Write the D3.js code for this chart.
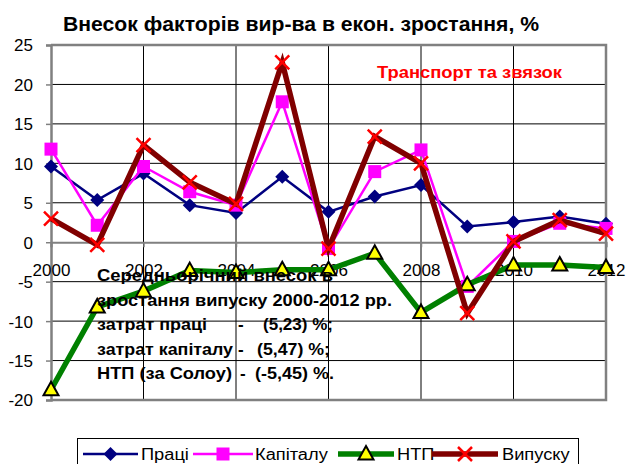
<!DOCTYPE html>
<html><head><meta charset="utf-8">
<script src="https://cdn.jsdelivr.net/npm/d3@7"></script>
<style>body{margin:0;background:#fff}svg{display:block;font-family:"Liberation Sans",Arial,sans-serif}</style>
</head><body>
<svg id="c" width="628" height="464"></svg>
<script>
const years = [2000,2001,2002,2003,2004,2005,2006,2007,2008,2009,2010,2011,2012];
const xTicks = [2000,2002,2004,2006,2008,2010,2012];
const yTicks = [-20,-15,-10,-5,0,5,10,15,20,25];
const pratsi   = [9.6,5.35,8.7,4.7,3.7,8.3,3.85,5.8,7.25,2.0,2.55,3.25,2.35];
const kapitalu = [11.8,2.15,9.6,6.4,4.7,17.8,-0.8,8.95,11.7,-5.6,0.1,2.4,1.75];
const ntp      = [-18.7,-8.2,-6.2,-3.6,-3.85,-3.5,-3.5,-1.4,-8.9,-5.4,-2.9,-2.9,-3.2];
const vypusku  = [3.0,-0.35,12.3,7.6,4.85,22.8,-0.8,13.4,10.0,-9.0,0.1,2.8,1.1];
const seriesNames = ["Праці","Капіталу","НТП","Випуску"];
const title = "Внесок факторів вир-ва в екон. зростання, %";
const note = "Транспорт та звязок";
const boxLines = [
  ["Середньорічний внесок в","",""],
  ["зростання випуску 2000-2012 рр.","",""],
  ["затрат праці","-","(5,23) %;"],
  ["затрат капіталу","-","(5,47) %;"],
  ["НТП (за Солоу)","-","(-5,45) %."]
];

const svg = d3.select("#c");
const L=51,R=606,T=45,B=400;
const x = d3.scaleLinear().domain([2000,2012]).range([L,R]);
const y = d3.scaleLinear().domain([-20,25]).range([B,T]);

svg.append("text").attr("x",63).attr("y",31)
  .attr("font-size",20).attr("font-weight","bold").attr("textLength",476).attr("lengthAdjust","spacingAndGlyphs").text(title);

// grid
const g = svg.append("g");
g.selectAll(".hg").data(yTicks.filter(v=>v!==0 && v!==25 && v!==-20)).enter().append("line")
  .attr("x1",L).attr("x2",R).attr("y1",d=>y(d)).attr("y2",d=>y(d)).attr("stroke","#000").attr("stroke-width",1);
g.selectAll(".vg").data(xTicks.filter(v=>v!==2000 && v!==2012)).enter().append("line")
  .attr("x1",d=>x(d)).attr("x2",d=>x(d)).attr("y1",T).attr("y2",B).attr("stroke","#000").attr("stroke-width",1);
// border
g.append("path").attr("d",`M${L},${T}H${R}V${B}H${L}`).attr("fill","none").attr("stroke","#808080").attr("stroke-width",2.5);
// y axis
const yAx = d3.axisLeft(y).tickValues(yTicks).tickSize(5).tickPadding(13).tickFormat(d3.format("d"));
const ya = svg.append("g").attr("transform",`translate(${L},0)`).call(yAx);
ya.select(".domain").attr("stroke","#808080").attr("stroke-width",2.5);
ya.selectAll(".tick line").attr("stroke","#808080").attr("stroke-width",1.5);
ya.selectAll("text").attr("font-size",17).attr("font-family","Liberation Sans, Arial").attr("fill","#000").attr("dy","0.35em");
ya.selectAll("text").text(d=>d<0?"-"+Math.abs(d):d);
// x axis at 0
const xAx = d3.axisBottom(x).tickValues(xTicks).tickSize(5).tickPadding(18).tickFormat(d3.format("d"));
const xa = svg.append("g").attr("transform",`translate(0,${y(0)})`).call(xAx);
xa.select(".domain").attr("stroke","#808080").attr("stroke-width",2);
xa.selectAll(".tick line").attr("stroke","#808080").attr("stroke-width",1.5);
xa.selectAll("text").attr("font-size",17).attr("font-family","Liberation Sans, Arial").attr("fill","#000").attr("dy","0").attr("y",34);

const series = [
  {name:seriesNames[0],vals:pratsi,color:"#000080",w:2.5,m:"diamond"},
  {name:seriesNames[1],vals:kapitalu,color:"#FF00FF",w:2.5,m:"square"},
  {name:seriesNames[2],vals:ntp,color:"#008000",w:5.5,m:"triangle"},
  {name:seriesNames[3],vals:vypusku,color:"#800000",w:5.5,m:"x"}
];
function marker(sel,type){
  if(type==="diamond") sel.append("path").attr("d","M0,-7L7,0L0,7L-7,0Z").attr("fill","#000080");
  if(type==="square") sel.append("rect").attr("x",-6.5).attr("y",-6.5).attr("width",13).attr("height",13).attr("fill","#FF00FF");
  if(type==="triangle") sel.append("path").attr("d","M0,-8L7.5,5.5L-7.5,5.5Z").attr("fill","#FFFF00").attr("stroke","#000").attr("stroke-width",2).attr("stroke-linejoin","miter");
  if(type==="x") sel.append("path").attr("d","M-7,-7L7,7M7,-7L-7,7").attr("stroke","#FF0000").attr("stroke-width",2.5);
}
const line = d3.line().x((d,i)=>x(years[i])).y(d=>y(d));
series.forEach(s=>{
  svg.append("path").attr("d",line(s.vals)).attr("fill","none").attr("stroke",s.color).attr("stroke-width",s.w).attr("stroke-linejoin","miter");
  s.vals.forEach((v,i)=>{
    const m = svg.append("g").attr("transform",`translate(${x(years[i])},${y(v)})`);
    marker(m,s.m);
  });
});

svg.append("text").attr("x",377).attr("y",78).attr("font-size",17).attr("font-weight","bold").attr("fill","#FF0000")
  .attr("textLength",185).attr("lengthAdjust","spacingAndGlyphs").text(note);

const tb = svg.append("g").attr("font-size",17).attr("font-weight","bold").attr("fill","#000");
const labW=[236,295,110,136,135];
const dashX=[0,0,238,238,240], valX=[0,0,263,257,255], valW=[0,0,70,73,79];
boxLines.forEach((l,i)=>{
  const by = 281 + i*24.5;
  tb.append("text").attr("x",97).attr("y",by).attr("textLength",labW[i]).attr("lengthAdjust","spacingAndGlyphs").text(l[0]);
  if(l[1]) tb.append("text").attr("x",dashX[i]).attr("y",by).text(l[1]);
  if(l[2]) tb.append("text").attr("x",valX[i]).attr("y",by).attr("textLength",valW[i]).attr("lengthAdjust","spacingAndGlyphs").text(l[2]);
});

// legend
const lg = svg.append("g");
lg.append("rect").attr("x",77.5).attr("y",438.5).attr("width",501).attr("height",30).attr("fill","#fff").attr("stroke","#000").attr("stroke-width",1);
const lx = [[83,138,141],[193,253,255],[338,394,397],[432,498,502]];
series.forEach((s,i)=>{
  const ly=454;
  lg.append("line").attr("x1",lx[i][0]).attr("x2",lx[i][1]).attr("y1",ly).attr("y2",ly).attr("stroke",s.color).attr("stroke-width",s.w);
  marker(lg.append("g").attr("transform",`translate(${(lx[i][0]+lx[i][1])/2},${ly})`),s.m);
  const t = lg.append("text").attr("x",lx[i][2]).attr("y",460).attr("font-size",16).text(s.name);
  const w = t.node().getComputedTextLength();
  t.attr("textLength",w*1.14).attr("lengthAdjust","spacingAndGlyphs");
});
</script>
</body></html>
